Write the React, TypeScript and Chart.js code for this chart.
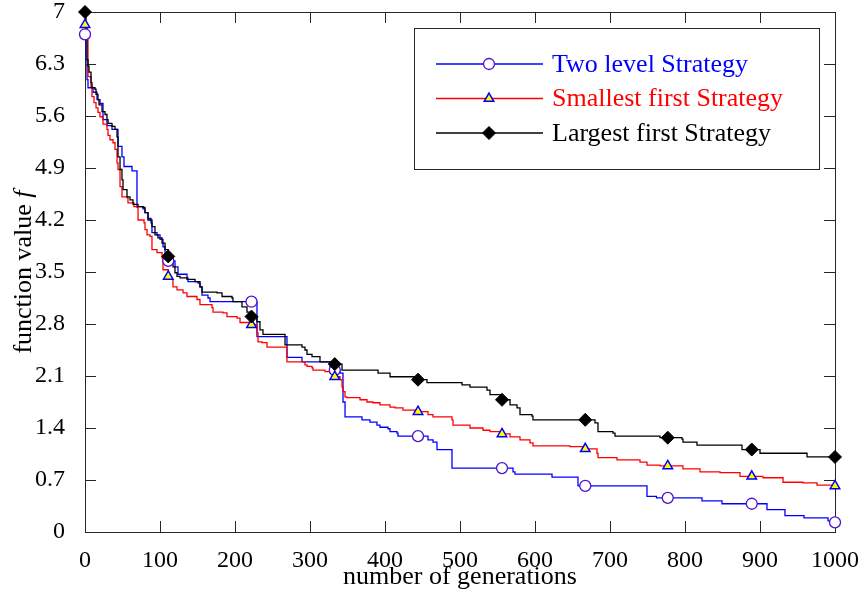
import React, { useEffect, useRef } from 'react';
import { Chart, registerables } from 'chart.js';

Chart.register(...registerables);

const FONT = '"Liberation Serif", "Times New Roman", serif';

// Axis ticks
const generationTicks = [0, 100, 200, 300, 400, 500, 600, 700, 800, 900, 1000];
const valueTicks = [0, 0.7, 1.4, 2.1, 2.8, 3.5, 4.2, 4.9, 5.6, 6.3, 7];

// Series labels
const seriesLabels = ['Two level Strategy', 'Smallest first Strategy', 'Largest first Strategy'];

// Marker positions (generation) and values
const markerGenerations = [0, 111, 222, 333, 444, 556, 667, 777, 889, 1000];
const twoLevelMarkers = [6.70, 3.65, 3.10, 2.18, 1.29, 0.86, 0.62, 0.46, 0.38, 0.13];
const smallestFirstMarkers = [6.83, 3.44, 2.79, 2.09, 1.62, 1.32, 1.12, 0.89, 0.75, 0.62];
const largestFirstMarkers = [7.0, 3.71, 2.90, 2.26, 2.05, 1.78, 1.51, 1.27, 1.11, 1.01];

// Step curves: [generation, function value]
const twoLevelSteps: [number, number][] = [
  [0, 6.70], [1.3, 6.36], [2.7, 6.09], [4, 5.98], [10.7, 5.92], [16, 5.82], [20, 5.77], [24, 5.55],
  [29.3, 5.47], [36, 5.42], [44, 5.19], [49.3, 5.05], [52, 4.92], [62.7, 4.86], [69.3, 4.38],
  [77.3, 4.35], [80, 4.30], [84, 4.22], [88, 4.16], [89.3, 4.03], [96, 4.00], [100, 3.94],
  [104, 3.84], [106.7, 3.73], [111, 3.65], [120, 3.57], [124, 3.47], [136, 3.42], [137.3, 3.37],
  [150.7, 3.35], [153.3, 3.30], [156, 3.19], [164, 3.15], [166.7, 3.10], [229.3, 2.63],
  [269.3, 2.35], [289.3, 2.29], [326.7, 2.18], [340, 2.14], [344, 1.75], [346.7, 1.55],
  [369.3, 1.51], [380, 1.48], [389.3, 1.44], [393.3, 1.41], [404, 1.39], [406.7, 1.35],
  [416, 1.33], [417.3, 1.29], [457.3, 1.24], [464, 1.21], [469.3, 1.11], [489.3, 0.86],
  [570.7, 0.81], [573.3, 0.78], [622.7, 0.74], [657.3, 0.62], [749.3, 0.48], [762, 0.46],
  [822.7, 0.42], [849.3, 0.38], [909.3, 0.30], [933.3, 0.22], [958.7, 0.19], [990.7, 0.15],
  [1000, 0.13],
];

const smallestFirstSteps: [number, number][] = [
  [0, 6.83], [1.3, 6.72], [4, 6.13], [8, 6.00], [9.3, 5.86], [12, 5.78], [14.7, 5.71], [17.3, 5.65],
  [20, 5.59], [24, 5.49], [29.3, 5.42], [30.7, 5.34], [33.3, 5.28], [37.3, 5.24], [40, 5.15],
  [42.7, 4.97], [44, 4.88], [46.7, 4.65], [49.3, 4.51], [56, 4.50], [57.3, 4.43], [65.3, 4.38],
  [69.3, 4.37], [70.7, 4.20], [78.7, 4.16], [80, 4.07], [82.7, 4.00], [86.7, 3.98], [89.3, 3.80],
  [96, 3.76], [102.7, 3.69], [104, 3.53], [111, 3.44], [113.3, 3.40], [117.3, 3.30], [122.7, 3.26],
  [130.7, 3.22], [136, 3.17], [149.3, 3.13], [153.3, 3.06], [169.3, 3.02], [170.7, 2.96],
  [184, 2.95], [189.3, 2.90], [202.7, 2.88], [206.7, 2.82], [222, 2.79], [229.3, 2.68],
  [230.7, 2.56], [236, 2.55], [242.7, 2.49], [269.3, 2.29], [293.3, 2.25], [296, 2.23],
  [302.7, 2.21], [304, 2.18], [320, 2.16], [326.7, 2.14], [333, 2.09], [340, 2.05], [342.7, 1.95],
  [344, 1.89], [346.7, 1.82], [349.3, 1.81], [366.7, 1.78], [376, 1.75], [384, 1.74], [393.3, 1.71],
  [406.7, 1.68], [413.3, 1.67], [424, 1.64], [440, 1.62], [457.3, 1.58], [464, 1.55], [489.3, 1.51],
  [490.7, 1.44], [513.3, 1.40], [530.7, 1.37], [540, 1.35], [556, 1.32], [566.7, 1.28], [580, 1.24],
  [593.3, 1.20], [597.3, 1.16], [646.7, 1.15], [664, 1.12], [682.7, 1.06], [684, 1.00],
  [709.3, 0.97], [740, 0.94], [749.3, 0.90], [766.7, 0.89], [797.3, 0.85], [820, 0.81],
  [846.7, 0.80], [873.3, 0.75], [904, 0.73], [930.7, 0.67], [957.3, 0.66], [976, 0.63], [1000, 0.62],
];

const largestFirstSteps: [number, number][] = [
  [0, 7.0], [1.3, 6.79], [2.7, 6.36], [4, 6.27], [5.3, 6.19], [8, 6.05], [9.3, 5.98], [13.3, 5.96],
  [14.7, 5.89], [17.3, 5.82], [18.7, 5.75], [22.7, 5.66], [26.7, 5.62], [29.3, 5.55], [30.7, 5.50],
  [36, 5.46], [40, 5.42], [42.7, 5.32], [44, 5.05], [46.7, 4.88], [49.3, 4.74], [50.7, 4.61],
  [56, 4.51], [60, 4.47], [64, 4.41], [70.7, 4.38], [77.3, 4.37], [80, 4.30], [84, 4.20],
  [89.3, 4.11], [93.3, 4.00], [97.3, 3.96], [102.7, 3.89], [106.7, 3.80], [111, 3.71],
  [117.3, 3.57], [120, 3.49], [122.7, 3.44], [126.7, 3.42], [136, 3.40], [146.7, 3.37],
  [153.3, 3.30], [156, 3.23], [176, 3.22], [182.7, 3.17], [196, 3.15], [197.3, 3.10],
  [209.3, 3.03], [216, 2.96], [222, 2.90], [229.3, 2.83], [233.3, 2.72], [237.3, 2.66],
  [266.7, 2.52], [289.3, 2.49], [293.3, 2.45], [296, 2.39], [302.7, 2.36], [313.3, 2.29],
  [333, 2.26], [342.7, 2.18], [390.7, 2.14], [406.7, 2.09], [444, 2.05], [456, 2.01],
  [502.7, 1.98], [513.3, 1.95], [536, 1.91], [540, 1.85], [556, 1.78], [566.7, 1.71], [576, 1.67],
  [580, 1.58], [596, 1.56], [597.3, 1.51], [680, 1.47], [684, 1.35], [704, 1.33], [706.7, 1.29],
  [766.7, 1.27], [796, 1.25], [797.3, 1.21], [816, 1.17], [876, 1.11], [900, 1.06], [962.7, 1.01],
  [1000, 1.01],
];

const BLUE = '#0000ff';
const RED = '#ff0000';
const BLACK = '#000000';
const CIRCLE_EDGE = '#4d10cc';

type MarkerKind = 'circle' | 'triangle' | 'diamond';

function drawMarker(ctx: CanvasRenderingContext2D, kind: MarkerKind, x: number, y: number) {
  ctx.save();
  ctx.beginPath();
  if (kind === 'circle') {
    ctx.arc(x, y, 5.5, 0, Math.PI * 2);
    ctx.fillStyle = '#ffffff';
    ctx.strokeStyle = CIRCLE_EDGE;
    ctx.lineWidth = 1.3;
  } else if (kind === 'triangle') {
    const r = 5.5;
    ctx.moveTo(x, y - r);
    ctx.lineTo(x + r * Math.sin((2 * Math.PI) / 3), y - r * Math.cos((2 * Math.PI) / 3));
    ctx.lineTo(x + r * Math.sin((4 * Math.PI) / 3), y - r * Math.cos((4 * Math.PI) / 3));
    ctx.closePath();
    ctx.fillStyle = '#ffff00';
    ctx.strokeStyle = BLUE;
    ctx.lineWidth = 1.5;
  } else {
    const r = 6.5;
    ctx.moveTo(x - r, y);
    ctx.lineTo(x, y - r);
    ctx.lineTo(x + r, y);
    ctx.lineTo(x, y + r);
    ctx.closePath();
    ctx.fillStyle = BLACK;
    ctx.strokeStyle = BLACK;
    ctx.lineWidth = 1;
  }
  ctx.fill();
  ctx.stroke();
  ctx.restore();
}

const framePlugin = {
  id: 'matlabFrame',
  beforeDatasetsDraw(chart: any) {
    const { ctx, chartArea, scales } = chart;
    const { left, right, top, bottom } = chartArea;
    const tickLen = 11;
    ctx.save();
    ctx.strokeStyle = '#262626';
    ctx.lineWidth = 1;
    ctx.beginPath();
    generationTicks.forEach((g) => {
      const x = Math.round(scales.x.getPixelForValue(g)) + 0.5;
      ctx.moveTo(x, bottom);
      ctx.lineTo(x, bottom - tickLen);
      ctx.moveTo(x, top);
      ctx.lineTo(x, top + tickLen);
    });
    valueTicks.forEach((v) => {
      const y = Math.round(scales.y.getPixelForValue(v)) + 0.5;
      ctx.moveTo(left, y);
      ctx.lineTo(left + tickLen, y);
      ctx.moveTo(right, y);
      ctx.lineTo(right - tickLen, y);
    });
    ctx.stroke();
    ctx.strokeRect(Math.round(left) + 0.5, Math.round(top) + 0.5, Math.round(right - left), Math.round(bottom - top));
    ctx.restore();
  },
  afterDraw(chart: any) {
    const { ctx, chartArea } = chart;
    ctx.save();
    // x-axis title
    ctx.fillStyle = '#000';
    ctx.font = `26px ${FONT}`;
    ctx.textAlign = 'center';
    ctx.textBaseline = 'alphabetic';
    ctx.fillText('number of generations', (chartArea.left + chartArea.right) / 2, 584);
    // y-axis title with italic f
    const cy = (chartArea.top + chartArea.bottom) / 2;
    ctx.translate(31, cy);
    ctx.rotate(-Math.PI / 2);
    ctx.textAlign = 'left';
    const part1 = 'function value ';
    ctx.font = `26px ${FONT}`;
    const w1 = ctx.measureText(part1).width;
    ctx.font = `italic 26px ${FONT}`;
    const w2 = ctx.measureText('f').width;
    const start = -(w1 + w2) / 2;
    ctx.font = `26px ${FONT}`;
    ctx.fillText(part1, start, 0);
    ctx.font = `italic 26px ${FONT}`;
    ctx.fillText('f', start + w1, 0);
    ctx.restore();

    // Legend
    const bx = chartArea.right - 421;
    const by = chartArea.top + 16;
    const bw = 405;
    const bh = 141;
    ctx.save();
    ctx.fillStyle = '#ffffff';
    ctx.fillRect(bx, by, bw, bh);
    ctx.strokeStyle = '#262626';
    ctx.lineWidth = 1;
    ctx.strokeRect(bx + 0.5, by + 0.5, bw, bh);
    const rows = [
      { label: seriesLabels[0], color: BLUE, kind: 'circle' as MarkerKind },
      { label: seriesLabels[1], color: RED, kind: 'triangle' as MarkerKind },
      { label: seriesLabels[2], color: BLACK, kind: 'diamond' as MarkerKind },
    ];
    rows.forEach((r, i) => {
      const y = by + 36 + i * 34.5;
      ctx.strokeStyle = r.color;
      ctx.lineWidth = 1.3;
      ctx.beginPath();
      ctx.moveTo(bx + 22, y);
      ctx.lineTo(bx + 129, y);
      ctx.stroke();
      drawMarker(ctx, r.kind, bx + 75, y);
      ctx.fillStyle = r.color;
      ctx.font = `26px ${FONT}`;
      ctx.textAlign = 'left';
      ctx.textBaseline = 'middle';
      ctx.fillText(r.label, bx + 138, y + 1);
    });
    ctx.restore();
  },
};

function lineDataset(steps: [number, number][], color: string, order: number) {
  return {
    data: steps.map(([x, y]) => ({ x, y })),
    stepped: true,
    borderColor: color,
    borderWidth: 1.3,
    pointRadius: 0,
    fill: false,
    order,
    clip: false,
  };
}

function markerDataset(values: number[], style: string, radius: number, bg: string, edge: string, bw: number, order: number) {
  return {
    data: markerGenerations.map((x, i) => ({ x, y: values[i] })),
    showLine: false,
    pointStyle: style,
    pointRadius: radius,
    pointBackgroundColor: bg,
    pointBorderColor: edge,
    pointBorderWidth: bw,
    order,
    clip: false,
  };
}

export default function App() {
  const canvasRef = useRef<HTMLCanvasElement | null>(null);

  useEffect(() => {
    const canvas = canvasRef.current;
    if (!canvas) return;
    const chart = new Chart(canvas, {
      type: 'line',
      data: {
        datasets: [
          lineDataset(twoLevelSteps, BLUE, 9),
          lineDataset(smallestFirstSteps, RED, 8),
          lineDataset(largestFirstSteps, BLACK, 7),
          markerDataset(twoLevelMarkers, 'circle', 5.5, '#ffffff', CIRCLE_EDGE, 1.3, 3),
          markerDataset(smallestFirstMarkers, 'triangle', 5.5, '#ffff00', BLUE, 1.5, 2),
          markerDataset(largestFirstMarkers, 'rectRot', 6.5, BLACK, BLACK, 1, 1),
        ] as any,
      },
      options: {
        animation: false,
        responsive: false,
        devicePixelRatio: 1,
        events: [],
        layout: { padding: { top: 12, right: 29, left: 0, bottom: 0 } },
        plugins: { legend: { display: false }, tooltip: { enabled: false } },
        scales: {
          x: {
            type: 'linear',
            min: 0,
            max: 1000,
            grid: { display: false },
            border: { display: false },
            afterBuildTicks: (s: any) => {
              s.ticks = generationTicks.map((v) => ({ value: v }));
            },
            afterFit: (s: any) => {
              s.height = 63;
              s.paddingLeft = 0;
              s.paddingRight = 0;
            },
            ticks: {
              color: '#000',
              font: { family: FONT, size: 24 },
              padding: 6,
              maxRotation: 0,
              autoSkip: false,
              callback: (v: any) => String(v),
            },
          },
          y: {
            type: 'linear',
            min: 0,
            max: 7,
            grid: { display: false },
            border: { display: false },
            afterBuildTicks: (s: any) => {
              s.ticks = valueTicks.map((v) => ({ value: v }));
            },
            afterFit: (s: any) => {
              s.width = 85;
              s.paddingTop = 0;
              s.paddingBottom = 0;
            },
            ticks: {
              color: '#000',
              font: { family: FONT, size: 24 },
              padding: 12,
              autoSkip: false,
              callback: (v: any) => String(Math.round(Number(v) * 10) / 10),
            },
          },
        },
      } as any,
      plugins: [framePlugin],
    });
    return () => chart.destroy();
  }, []);

  return (
    <div style={{ position: 'absolute', left: 0, top: 0, width: 864, height: 595, background: '#fff' }}>
      <canvas ref={canvasRef} width={864} height={595} style={{ display: 'block' }} />
    </div>
  );
}
